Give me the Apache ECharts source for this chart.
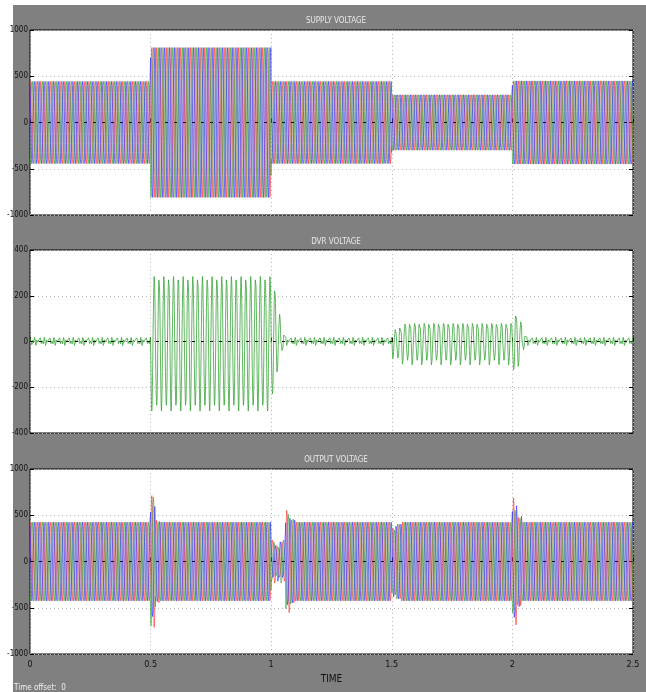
<!DOCTYPE html>
<html>
<head>
<meta charset="utf-8">
<script src="https://cdn.jsdelivr.net/npm/echarts@6/dist/echarts.min.js"></script>
<style>
  html, body { margin: 0; padding: 0; background: #fff; }
  #frame { position: absolute; left: 13px; top: 5px; right: 0; bottom: 0; background: #808080; }
  #chart { position: absolute; left: 0; top: 0; width: 646px; height: 692px; }
</style>
</head>
<body>
<div id="frame"></div>
<div id="chart"></div>
<script>
// sampling: 50 Hz mains, 24 samples per cycle
const T_END = 2.5;
const SAMPLES_PER_SEC = 1200;
const SINE_CYCLE = [0, 0.259, 0.5, 0.707, 0.866, 0.966, 1, 0.966, 0.866, 0.707, 0.5, 0.259,
  0, -0.259, -0.5, -0.707, -0.866, -0.966, -1, -0.966, -0.866, -0.707, -0.5, -0.259];
const PHASE_SHIFT = [0, 16, 8];           // samples: red, green, blue
const PHASE_COLORS = ["#ff2a2a", "#2a9f2a", "#2a2aff"];

// supply voltage envelope per segment
const SUPPLY_T = [0, 0.5, 1.0, 1.5, 2.0];
const SUPPLY_AMP = [460, 810, 460, 310, 465];

// output voltage: nominal amplitude and per-cycle gains at each event
const OUTPUT_AMP = 440;
const OUT_EVENT_CYCLE = [25, 50, 75, 100];
const OUT_GAIN_R = [[1.62, 1.05], [0.55, 0.45, 0.5, 1.3, 1.05], [0.85, 0.95], [1.56, 1.12]];
const OUT_GAIN_G = [[1.58, 1.0], [0.5, 0.4, 0.55, 1.2, 1.08], [0.8, 0.95], [1.3, 1.1]];
const OUT_GAIN_B = [[1.4, 1.02], [0.45, 0.5, 0.45, 1.1, 1.05], [0.9, 0.95], [1.42, 1.15]];

// DVR voltage
const DVR_NOISE = [0, 6, 12, 16, 17, 13, 6, -2, -9, -14, -16, -12, -5, 2, 6, 4, -1, -6, -10, -8, -2, 6, 13, 18,
  19, 14, 6, -3, -11, -17, -19, -15, -8, 0, 7, 10, 8, 3, -3, -7, -9, -6, -1, 4, 7, 6, 3, 1];
const DVR_SEG_T0 = [0.5, 1.5];
const DVR_SEG_T1 = [1.0, 2.0];
const DVR_SEG_AMP = [285, 88];
const DVR_RAMP_CYCLE = 75;
const DVR_RAMP_AMP = [60, 78, 85];
const DVR_TAIL_CYCLE = [50, 100];
const DVR_TAIL_AMP = [[235, 120, 45], [130, 95, 35]];
const DVR_SHIFT = 12;

const Y_TICKS_SUPPLY = [-1000, 1000, 500];
const Y_TICKS_DVR = [-400, 400, 200];
const X_TICKS = [0, 2.5, 0.5];

const N = Math.round(T_END * SAMPLES_PER_SEC);
const CL = SINE_CYCLE.length;

function supplyAmp(t) {
  let a = SUPPLY_AMP[0];
  for (let k = 0; k < SUPPLY_T.length; k++) if (t >= SUPPLY_T[k]) a = SUPPLY_AMP[k];
  return a;
}

function outGain(p, cyc) {
  const table = [OUT_GAIN_R, OUT_GAIN_G, OUT_GAIN_B][p];
  for (let e = 0; e < OUT_EVENT_CYCLE.length; e++) {
    const off = cyc - OUT_EVENT_CYCLE[e];
    if (off >= 0 && off < table[e].length) return table[e][off];
  }
  return 1;
}

function dvrAmp(t, cyc) {
  if (cyc - DVR_RAMP_CYCLE >= 0 && cyc - DVR_RAMP_CYCLE < DVR_RAMP_AMP.length) return DVR_RAMP_AMP[cyc - DVR_RAMP_CYCLE];
  for (let k = 0; k < DVR_SEG_T0.length; k++) {
    if (t >= DVR_SEG_T0[k] && t < DVR_SEG_T1[k]) return DVR_SEG_AMP[k];
  }
  for (let k = 0; k < DVR_TAIL_CYCLE.length; k++) {
    const off = cyc - DVR_TAIL_CYCLE[k];
    if (off >= 0 && off < DVR_TAIL_AMP[k].length) return DVR_TAIL_AMP[k][off];
  }
  return 0;
}

const supplyData = [[], [], []];
const outputData = [[], [], []];
const dvrData = [];
for (let i = 0; i <= N; i++) {
  const t = i / SAMPLES_PER_SEC;
  const cyc = Math.floor(i / CL);
  for (let p = 0; p < 3; p++) {
    const s = SINE_CYCLE[(i + PHASE_SHIFT[p]) % CL];
    supplyData[p].push([t, supplyAmp(t) * s]);
    outputData[p].push([t, OUTPUT_AMP * outGain(p, cyc) * s]);
  }
  dvrData.push([t, dvrAmp(t, cyc) * SINE_CYCLE[(i + DVR_SHIFT) % CL] + DVR_NOISE[i % DVR_NOISE.length]]);
}

const FONT = "'Liberation Sans Narrow', 'DejaVu Sans Condensed', 'Liberation Sans', sans-serif";
const GRIDS = [
  { left: 30, right: 13, top: 30, height: 185 },
  { left: 30, right: 13, top: 250, height: 183 },
  { left: 30, right: 13, top: 469, height: 185 }
];
const TITLES = ["SUPPLY VOLTAGE", "DVR VOLTAGE", "OUTPUT VOLTAGE"];
const TITLE_TOP = [12, 233, 451];

const zeroLine = {
  silent: true,
  symbol: "none",
  label: { show: false },
  lineStyle: { color: "#000", type: [3, 6], width: 1, opacity: 0.9 },
  data: [{ yAxis: 0 }]
};

function xAxis(idx, showLabels) {
  return {
    type: "value", gridIndex: idx,
    min: X_TICKS[0], max: X_TICKS[1], interval: X_TICKS[2],
    axisLine: { show: false },
    axisTick: { show: true, inside: true, length: 4, lineStyle: { color: "#000" } },
    axisLabel: {
      show: showLabels, color: "#111", fontSize: 9, fontFamily: FONT, margin: 6,
      formatter: (v) => String(v)
    },
    splitLine: { show: true, lineStyle: { color: "#b8b8b8", type: [1, 3], width: 1 } },
    name: showLabels ? "TIME" : "",
    nameLocation: "middle", nameGap: 20,
    nameTextStyle: { color: "#111", fontSize: 10, fontFamily: FONT }
  };
}

function yAxis(idx, ticks, right) {
  return {
    type: "value", gridIndex: idx,
    min: ticks[0], max: ticks[1], interval: ticks[2],
    position: right ? "right" : "left",
    axisLine: { show: false },
    axisTick: { show: true, inside: true, length: 4, lineStyle: { color: "#000" } },
    axisLabel: {
      show: !right, color: "#111", fontSize: 8, fontFamily: FONT, margin: 2,
      formatter: (v) => String(v)
    },
    splitLine: { show: !right, lineStyle: { color: "#b8b8b8", type: [1, 3], width: 1 } }
  };
}

const series = [];
for (let p = 0; p < 3; p++) {
  series.push({
    type: "line", xAxisIndex: 0, yAxisIndex: 0, data: supplyData[p],
    showSymbol: false, animation: false, silent: true,
    lineStyle: { color: PHASE_COLORS[p], width: 1, opacity: 0.62 },
    markLine: p === 2 ? zeroLine : undefined
  });
}
series.push({
  type: "line", xAxisIndex: 1, yAxisIndex: 2, data: dvrData,
  showSymbol: false, animation: false, silent: true,
  lineStyle: { color: "#3aa53a", width: 1, opacity: 0.8 },
  markLine: zeroLine
});
for (let p = 0; p < 3; p++) {
  series.push({
    type: "line", xAxisIndex: 2, yAxisIndex: 4, data: outputData[p],
    showSymbol: false, animation: false, silent: true,
    lineStyle: { color: PHASE_COLORS[p], width: 1, opacity: 0.62 },
    markLine: p === 2 ? zeroLine : undefined
  });
}

const chart = echarts.init(document.getElementById("chart"), null, { renderer: "canvas" });
chart.setOption({
  animation: false,
  backgroundColor: "transparent",
  title: TITLES.map((text, k) => ({
    text, left: 331, top: TITLE_TOP[k], textAlign: "center",
    textStyle: { color: "#e8e8e8", fontSize: 8, fontWeight: "normal", fontFamily: FONT }
  })),
  grid: GRIDS.map((g) => Object.assign({
    show: true, backgroundColor: "#fff", borderColor: "#000", borderWidth: 1, containLabel: false
  }, g)),
  xAxis: [xAxis(0, false), xAxis(1, false), xAxis(2, true)],
  yAxis: [
    yAxis(0, Y_TICKS_SUPPLY, false), yAxis(0, Y_TICKS_SUPPLY, true),
    yAxis(1, Y_TICKS_DVR, false), yAxis(1, Y_TICKS_DVR, true),
    yAxis(2, Y_TICKS_SUPPLY, false), yAxis(2, Y_TICKS_SUPPLY, true)
  ],
  graphic: [{
    type: "text", left: 14, top: 684,
    style: { text: "Time offset:  0", fill: "#eeeeee", fontSize: 8, fontFamily: FONT }
  }],
  series
});
</script>
</body>
</html>
